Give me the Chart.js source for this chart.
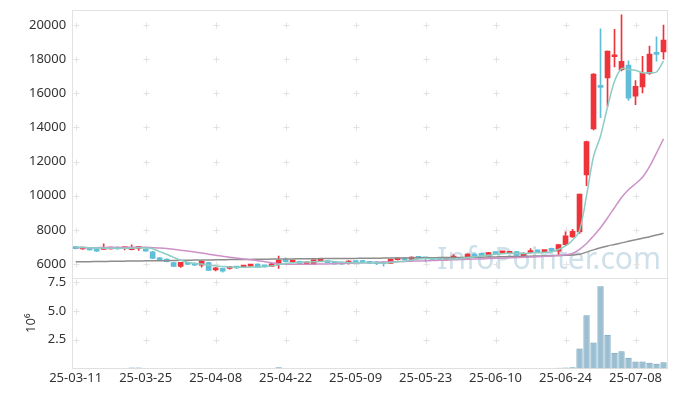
<!DOCTYPE html>
<html>
<head>
<meta charset="utf-8">
<script src="https://cdn.jsdelivr.net/npm/chart.js"></script>
<style>
  html, body { margin: 0; padding: 0; background: #fff; }
  #wrap { width: 677px; height: 396px; }
</style>
</head>
<body>
<div id="wrap"><canvas id="stockChart"></canvas></div>
<script>
const labels = [
  '25-03-11','25-03-12','25-03-13','25-03-14','25-03-17','25-03-18','25-03-19','25-03-20','25-03-21','25-03-24',
  '25-03-25','25-03-26','25-03-27','25-03-28','25-03-31','25-04-01','25-04-02','25-04-03','25-04-04','25-04-07',
  '25-04-08','25-04-09','25-04-10','25-04-11','25-04-14','25-04-15','25-04-16','25-04-17','25-04-18','25-04-21',
  '25-04-22','25-04-23','25-04-24','25-04-25','25-04-28','25-04-29','25-04-30','25-05-02','25-05-07','25-05-08',
  '25-05-09','25-05-12','25-05-13','25-05-14','25-05-15','25-05-16','25-05-19','25-05-20','25-05-21','25-05-22',
  '25-05-23','25-05-26','25-05-27','25-05-28','25-05-29','25-05-30','25-06-02','25-06-04','25-06-05','25-06-09',
  '25-06-10','25-06-11','25-06-12','25-06-13','25-06-16','25-06-17','25-06-18','25-06-19','25-06-20','25-06-23',
  '25-06-24','25-06-25','25-06-26','25-06-27','25-06-30','25-07-01','25-07-02','25-07-03','25-07-04','25-07-07',
  '25-07-08','25-07-09','25-07-10','25-07-11','25-07-14'
];

const opens = [
  6960,6880,6900,6860,6860,6880,7000,6900,6840,6920,
  6860,6720,6370,6290,6080,5860,6060,6040,5940,6080,
  5650,5750,5750,5830,5820,5880,6000,5900,5860,5980,
  6250,6120,6160,6000,5980,6200,6180,6140,6080,6020,
  6140,6200,6140,6120,6120,6040,6250,6330,6270,6390,
  6350,6290,6330,6250,6350,6270,6350,6590,6630,6470,
  6670,6650,6630,6725,6450,6670,6800,6730,6920,6760,
  7140,7590,7880,11220,13920,16470,16900,18140,17390,17650,
  15840,16370,17160,18370,18430
];
const highs = [
  7010,6950,6920,6880,7190,6990,7010,6990,7120,7040,
  6880,6740,6400,6300,6100,6100,6100,6060,6190,6100,
  5800,5760,5860,5870,5900,5950,6010,5920,6040,6470,
  6370,6200,6180,6140,6250,6280,6200,6150,6100,6200,
  6160,6220,6160,6150,6140,6290,6340,6350,6430,6410,
  6370,6310,6350,6330,6550,6400,6600,6610,6650,6690,
  6700,6750,6700,6740,6650,6900,6820,6800,6940,7150,
  7880,8040,10100,13200,17150,19780,18480,19750,20590,17900,
  16750,18170,18770,19310,20000
];
const lows = [
  6880,6860,6820,6740,6850,6870,6870,6830,6830,6800,
  6750,6320,6240,6130,5850,5800,5960,5900,5820,5620,
  5600,5530,5700,5730,5800,5860,5800,5810,5850,5750,
  6120,6100,5970,5990,5960,6180,6070,5990,5980,6000,
  6060,6060,6020,5960,5880,6030,6230,6230,6260,6310,
  6120,6230,6230,6200,6330,6250,6330,6450,6500,6460,
  6590,6630,6610,6500,6430,6650,6690,6700,6740,6570,
  7100,7560,7800,10590,13850,14570,15240,17550,17310,15590,
  15330,16020,17100,17880,18000
];
const closes = [
  6900,6920,6830,6760,6980,6960,6880,6940,6980,6960,
  6760,6330,6250,6140,5860,6100,5980,5940,6180,5630,
  5780,5590,5820,5770,5880,5920,5820,5830,6020,6220,
  6140,6180,5980,6120,6240,6240,6080,6000,6000,6180,
  6080,6080,6040,6020,6020,6270,6290,6240,6410,6330,
  6310,6250,6240,6290,6390,6370,6590,6470,6510,6670,
  6610,6690,6670,6510,6630,6725,6710,6780,6760,7140,
  7650,7920,10100,13180,17120,16340,18470,18240,17880,15720,
  16410,17190,18300,18280,19120
];

// moving averages as drawn (teal, pink, grey)
const ma5 = [
  7000,6980,6960,6940,6930,6920,6920,6920,6930,6950,6940,
  6900,6730,6570,6390,6220,6100,6030,6000,5940,5900,
  5850,5820,5810,5810,5820,5830,5850,5890,5960,6030,
  6070,6110,6120,6130,6150,6160,6140,6110,6090,6070,
  6080,6080,6070,6050,6090,6130,6170,6230,6300,6320,
  6310,6300,6290,6300,6320,6380,6420,6470,6520,6570,
  6600,6630,6620,6620,6650,6660,6680,6710,6860,7060,
  7400,7950,10000,12300,13500,15200,16700,17450,17400,17350,17200,17200,17250,17900
];
const ma20 = [
  6960,6960,6960,6960,6970,6970,6970,6980,6980,6980,6980,
  6960,6940,6910,6860,6810,6760,6700,6650,6580,6510,
  6460,6400,6350,6300,6250,6200,6140,6080,6020,5990,
  5985,5985,5990,5995,6000,6010,6020,6030,6040,6055,
  6070,6085,6100,6110,6125,6140,6150,6165,6180,6190,
  6205,6220,6230,6245,6260,6275,6290,6300,6320,6335,
  6350,6365,6380,6395,6410,6430,6450,6470,6500,6540,
  6620,6860,7200,7650,8130,8700,9300,9900,10350,10700,11080,11700,12500,13330
];
const ma60 = [
  6130,6140,6140,6150,6150,6160,6160,6170,6180,6180,6190,
  6190,6200,6200,6210,6220,6220,6230,6230,6240,6250,
  6250,6260,6260,6270,6270,6280,6280,6290,6290,6300,
  6300,6310,6310,6310,6320,6320,6320,6330,6330,6330,
  6340,6340,6340,6350,6350,6350,6360,6360,6370,6370,
  6370,6380,6380,6380,6390,6390,6400,6400,6410,6420,
  6430,6440,6440,6450,6460,6470,6480,6490,6500,6510,
  6530,6570,6700,6830,6950,7060,7150,7240,7330,7420,7510,7600,7700,7800
];

const volumes = [
  12000,9000,8000,11000,14000,9000,10000,13000,80000,70000,12000,
  14000,9000,8000,12000,10000,7000,9000,11000,13000,10000,
  8000,7000,9000,6000,7000,8000,6000,9000,90000,14000,
  8000,7000,6000,9000,8000,7000,6000,5000,8000,7000,
  6000,5000,7000,6000,9000,8000,6000,8000,7000,6000,
  5000,6000,5000,8000,7000,10000,8000,9000,8000,7000,
  8000,9000,10000,9000,12000,10000,11000,14000,60000,70000,
  90000,1720000,4620000,2240000,7140000,2930000,1370000,1480000,930000,610000,610000,500000,410000,530000
];

// tick marks shown on the two value axes
const priceTicks = [6000, 8000, 10000, 12000, 14000, 16000, 18000, 20000];
const volumeTicks = [2500000, 5000000, 7500000];

const UP = 'rgb(238,52,58)';
const DOWN = 'rgb(96,190,216)';
const candleColors = closes.map((c, i) => c >= opens[i] ? UP : DOWN);

Chart.defaults.font.family = "'Noto Sans', sans-serif";
Chart.defaults.font.size = 13;
Chart.defaults.color = '#333';

const framePlugin = {
  id: 'frame',
  beforeDatasetsDraw(chart) {
    const ctx = chart.ctx;
    const x = chart.scales.x;
    const yp = chart.scales.y;
    ctx.save();
    // watermark
    ctx.font = '30px "Noto Sans"';
    ctx.fillStyle = 'rgba(165,198,216,0.55)';
    ctx.textAlign = 'right';
    ctx.textBaseline = 'alphabetic';
    ctx.fillText('InfoPointer.com', x.right - 6, yp.bottom - 9);
    // panel frames + little crosses on tick intersections
    ctx.strokeStyle = '#e2e2e2';
    ctx.lineWidth = 1;
    ['y', 'yv'].forEach(id => {
      const s = chart.scales[id];
      ctx.strokeRect(Math.round(x.left) + 0.5, Math.round(s.top) + 0.5,
        Math.round(x.right - x.left), Math.round(s.bottom - s.top));
      s.ticks.forEach(t => {
        const py = Math.round(s.getPixelForValue(t.value)) + 0.5;
        x.ticks.forEach(xt => {
          const px = Math.round(x.getPixelForValue(xt.value)) + 0.5;
          ctx.beginPath();
          ctx.moveTo(px - 3, py); ctx.lineTo(px + 3, py);
          ctx.moveTo(px, py - 3); ctx.lineTo(px, py + 3);
          ctx.stroke();
        });
      });
    });
    ctx.restore();
  }
};

const maLine = (label, data, color) => ({
  type: 'line', label, data, yAxisID: 'y',
  borderColor: color, borderWidth: 1.5, pointRadius: 0,
  tension: 0.3, fill: false, order: 0
});

const noPad = s => { s.paddingTop = 0; s.paddingBottom = 0; };

new Chart(document.getElementById('stockChart'), {
  data: {
    labels: labels,
    datasets: [
      maLine('MA5', ma5, 'rgb(140,205,196)'),
      maLine('MA20', ma20, 'rgb(205,145,200)'),
      maLine('MA60', ma60, 'rgb(140,140,140)'),
      {
        type: 'bar', label: 'wick', yAxisID: 'y', order: 2,
        data: lows.map((l, i) => [l, highs[i]]),
        backgroundColor: candleColors, barThickness: 1, grouped: false,
        borderWidth: 0
      },
      {
        type: 'bar', label: 'body', yAxisID: 'y', order: 1,
        data: opens.map((o, i) => [o, closes[i]]),
        backgroundColor: candleColors, barThickness: 5, grouped: false,
        borderWidth: 0, minBarLength: 2
      },
      {
        type: 'bar', label: 'volume', yAxisID: 'yv', order: 3,
        data: volumes, grouped: false,
        backgroundColor: 'rgba(120,170,195,0.75)',
        borderColor: 'rgb(112,160,186)', borderWidth: 1,
        barPercentage: 0.9, categoryPercentage: 1.0
      }
    ]
  },
  options: {
    responsive: true,
    maintainAspectRatio: false,
    animation: false,
    layout: { padding: { left: 23, right: 10, top: 10, bottom: 8 } },
    plugins: { legend: { display: false }, tooltip: { enabled: false } },
    scales: {
      x: {
        type: 'category', offset: true,
        grid: { display: false, drawTicks: false }, border: { display: false },
        afterBuildTicks: s => { s.ticks = s.ticks.filter(t => t.value % 10 === 0); },
        ticks: { autoSkip: false, maxRotation: 0, padding: 2 }
      },
      yv: {
        type: 'linear', position: 'left', stack: 'panels', stackWeight: 90,
        min: 0, max: 7850000,
        grid: { display: false, drawTicks: false }, border: { display: false },
        afterBuildTicks: s => { s.ticks = volumeTicks.map(v => ({ value: v })); },
        afterFit: noPad,
        ticks: { padding: 6, callback: v => (v / 1e6).toFixed(1) },
        title: { display: true, text: '10⁶', padding: { top: 0, bottom: 2 } }
      },
      y: {
        type: 'linear', position: 'left', stack: 'panels', stackWeight: 267,
        min: 5180, max: 20880,
        grid: { display: false, drawTicks: false }, border: { display: false },
        afterBuildTicks: s => { s.ticks = priceTicks.map(v => ({ value: v })); },
        afterFit: noPad,
        ticks: { padding: 6, callback: v => String(v) }
      }
    }
  },
  plugins: [framePlugin]
});
</script>
</body>
</html>
